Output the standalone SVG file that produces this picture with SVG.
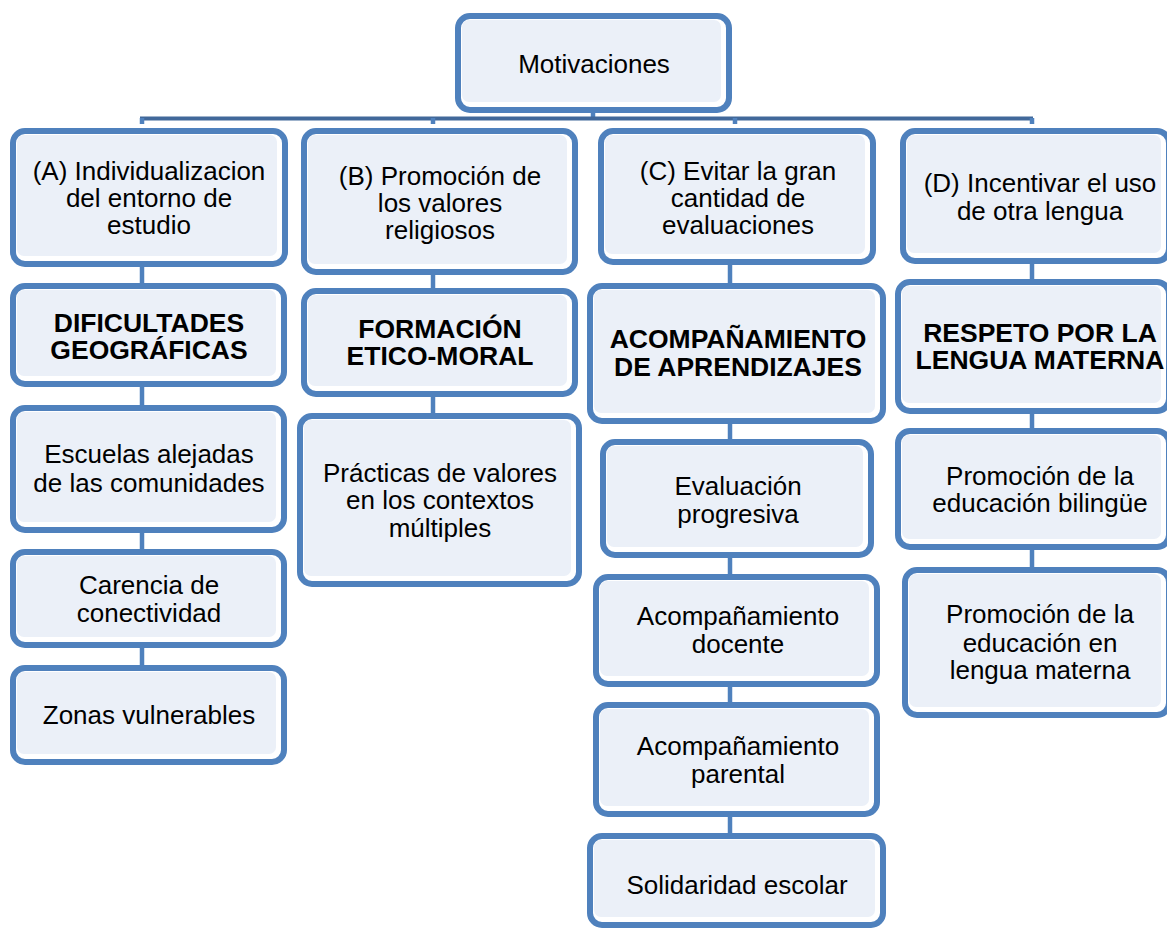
<svg xmlns="http://www.w3.org/2000/svg" width="1167" height="929" viewBox="0 0 1167 929">
<style>
.b{fill:#ffffff;stroke:#4F81BD;stroke-width:6}
.f{fill:#EBF0F8}
.t{font-family:"Liberation Sans",Arial,sans-serif;font-size:26px;fill:#000;text-anchor:middle}
.bd{font-weight:bold;font-size:26.5px}
.c{stroke:#4F81BD;stroke-width:4.5;fill:none}
.h{stroke:#41689A;stroke-width:4;fill:none}
</style>
<rect width="1167" height="929" fill="#ffffff"/>
<g id="connectors">
<line class="c" x1="593" y1="108" x2="593" y2="119"/>
<line class="h" x1="140" y1="118.5" x2="1033" y2="118.5"/>
<line class="c" x1="142" y1="118" x2="142" y2="124"/>
<line class="c" x1="433" y1="118" x2="433" y2="124"/>
<line class="c" x1="735" y1="118" x2="735" y2="124"/>
<line class="c" x1="1032" y1="118" x2="1032" y2="124"/>
<line class="c" x1="142" y1="265" x2="142" y2="285"/>
<line class="c" x1="142" y1="385" x2="142" y2="407"/>
<line class="c" x1="142" y1="531" x2="142" y2="551"/>
<line class="c" x1="142" y1="646" x2="142" y2="667"/>
<line class="c" x1="433" y1="273" x2="433" y2="290"/>
<line class="c" x1="433" y1="395" x2="433" y2="415"/>
<line class="c" x1="730" y1="263" x2="730" y2="285"/>
<line class="c" x1="730" y1="422" x2="730" y2="441"/>
<line class="c" x1="730" y1="556" x2="730" y2="576"/>
<line class="c" x1="730" y1="685" x2="730" y2="704"/>
<line class="c" x1="730" y1="815" x2="730" y2="835"/>
<line class="c" x1="1032" y1="262" x2="1032" y2="281"/>
<line class="c" x1="1032" y1="412" x2="1032" y2="430"/>
<line class="c" x1="1032" y1="548" x2="1032" y2="569"/>
</g>
<g id="motivaciones">
<rect class="b" x="458" y="16" width="271" height="94" rx="12"/>
<rect class="f" x="462" y="20" width="259" height="82" rx="7"/>
<text class="t" x="594" y="73">Motivaciones</text>
</g>
<g id="A1">
<rect class="b" x="13" y="131" width="272" height="133" rx="12"/>
<rect class="f" x="17" y="135" width="260" height="121" rx="7"/>
<text class="t" x="149" y="180">(A) Individualizacion</text>
<text class="t" x="149" y="207">del entorno de</text>
<text class="t" x="149" y="234">estudio</text>
</g>
<g id="B1">
<rect class="b" x="304" y="131" width="271" height="141" rx="12"/>
<rect class="f" x="308" y="135" width="259" height="129" rx="7"/>
<text class="t" x="440" y="185">(B) Promoción de</text>
<text class="t" x="440" y="212">los valores</text>
<text class="t" x="440" y="239">religiosos</text>
</g>
<g id="C1">
<rect class="b" x="601" y="131" width="272" height="131" rx="12"/>
<rect class="f" x="605" y="135" width="260" height="119" rx="7"/>
<text class="t" x="738" y="180">(C) Evitar la gran</text>
<text class="t" x="738" y="207">cantidad de</text>
<text class="t" x="738" y="234">evaluaciones</text>
</g>
<g id="D1">
<rect class="b" x="903" y="131" width="266" height="130" rx="12"/>
<rect class="f" x="907" y="135" width="254" height="118" rx="7"/>
<text class="t" x="1040" y="192">(D) Incentivar el uso</text>
<text class="t" x="1040" y="220">de otra lengua</text>
</g>
<g id="A2">
<rect class="b" x="13" y="286" width="271" height="98" rx="12"/>
<rect class="f" x="17" y="290" width="259" height="86" rx="7"/>
<text class="t bd" x="149" y="332">DIFICULTADES</text>
<text class="t bd" x="149" y="359">GEOGRÁFICAS</text>
</g>
<g id="B2">
<rect class="b" x="304" y="291" width="271" height="103" rx="12"/>
<rect class="f" x="308" y="295" width="259" height="91" rx="7"/>
<text class="t bd" x="440" y="338">FORMACIÓN</text>
<text class="t bd" x="440" y="365">ETICO-MORAL</text>
</g>
<g id="C2">
<rect class="b" x="590" y="286" width="293" height="135" rx="12"/>
<rect class="f" x="594" y="290" width="281" height="123" rx="7"/>
<text class="t bd" x="738" y="348">ACOMPAÑAMIENTO</text>
<text class="t bd" x="738" y="376">DE APRENDIZAJES</text>
</g>
<g id="D2">
<rect class="b" x="898" y="282" width="271" height="129" rx="12"/>
<rect class="f" x="902" y="286" width="259" height="117" rx="7"/>
<text class="t bd" x="1040" y="342">RESPETO POR LA</text>
<text class="t bd" x="1040" y="369">LENGUA MATERNA</text>
</g>
<g id="A3">
<rect class="b" x="13" y="408" width="271" height="122" rx="12"/>
<rect class="f" x="17" y="412" width="259" height="110" rx="7"/>
<text class="t" x="149" y="463">Escuelas alejadas</text>
<text class="t" x="149" y="492">de las comunidades</text>
</g>
<g id="A4">
<rect class="b" x="13" y="552" width="271" height="93" rx="12"/>
<rect class="f" x="17" y="556" width="259" height="81" rx="7"/>
<text class="t" x="149" y="594">Carencia de</text>
<text class="t" x="149" y="622">conectividad</text>
</g>
<g id="A5">
<rect class="b" x="13" y="668" width="271" height="94" rx="12"/>
<rect class="f" x="17" y="672" width="259" height="82" rx="7"/>
<text class="t" x="149" y="724">Zonas vulnerables</text>
</g>
<g id="B3">
<rect class="b" x="300" y="416" width="279" height="168" rx="12"/>
<rect class="f" x="304" y="420" width="267" height="156" rx="7"/>
<text class="t" x="440" y="482">Prácticas de valores</text>
<text class="t" x="440" y="509">en los contextos</text>
<text class="t" x="440" y="537">múltiples</text>
</g>
<g id="C3">
<rect class="b" x="603" y="442" width="268" height="113" rx="12"/>
<rect class="f" x="607" y="446" width="256" height="101" rx="7"/>
<text class="t" x="738" y="495">Evaluación</text>
<text class="t" x="738" y="523">progresiva</text>
</g>
<g id="C4">
<rect class="b" x="596" y="577" width="281" height="107" rx="12"/>
<rect class="f" x="600" y="581" width="269" height="95" rx="7"/>
<text class="t" x="738" y="625">Acompañamiento</text>
<text class="t" x="738" y="653">docente</text>
</g>
<g id="C5">
<rect class="b" x="596" y="705" width="281" height="109" rx="12"/>
<rect class="f" x="600" y="709" width="269" height="97" rx="7"/>
<text class="t" x="738" y="755">Acompañamiento</text>
<text class="t" x="738" y="783">parental</text>
</g>
<g id="C6">
<rect class="b" x="590" y="836" width="293" height="89" rx="12"/>
<rect class="f" x="594" y="840" width="281" height="77" rx="7"/>
<text class="t" x="737" y="894">Solidaridad escolar</text>
</g>
<g id="D3">
<rect class="b" x="898" y="431" width="271" height="116" rx="12"/>
<rect class="f" x="902" y="435" width="259" height="104" rx="7"/>
<text class="t" x="1040" y="485">Promoción de la</text>
<text class="t" x="1040" y="512">educación bilingüe</text>
</g>
<g id="D4">
<rect class="b" x="905" y="570" width="264" height="145" rx="12"/>
<rect class="f" x="909" y="574" width="252" height="133" rx="7"/>
<text class="t" x="1040" y="623">Promoción de la</text>
<text class="t" x="1040" y="652">educación en</text>
<text class="t" x="1040" y="679">lengua materna</text>
</g>
</svg>
